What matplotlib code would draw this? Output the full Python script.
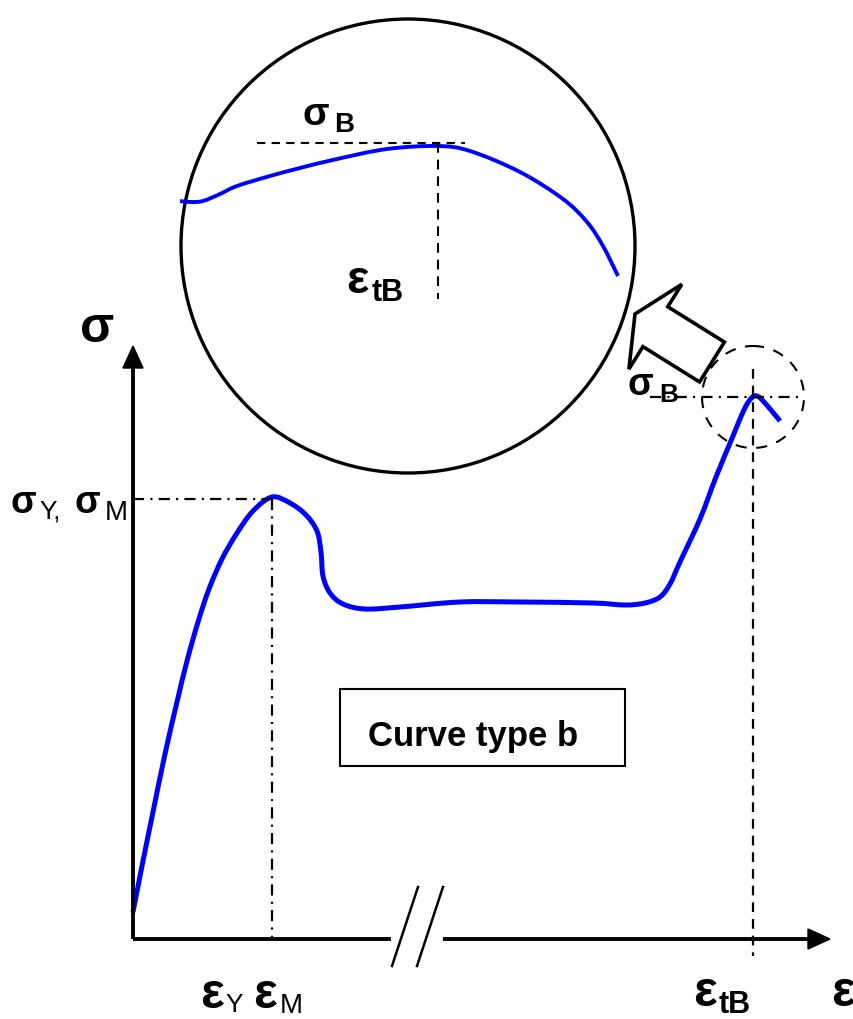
import numpy as np
import matplotlib.pyplot as plt
from matplotlib.path import Path
from matplotlib.patches import Circle, Polygon, Rectangle, FancyArrow, PathPatch

plt.rcParams['font.family'] = ['Liberation Sans', 'DejaVu Sans']
plt.rcParams['lines.scale_dashes'] = False

# stress-strain curve type b (drawing units, y grows downwards)
curve_x = [133, 143, 153, 165, 177, 187, 198, 209, 222, 237, 253, 272, 290, 306,
           317, 321, 323, 330, 343, 365, 400, 460, 520, 593, 625, 645, 660,
           670, 680, 700, 716, 733, 743, 749, 754, 759, 764, 771, 780]
curve_y = [913, 862, 813, 755, 703, 662, 623, 590, 560, 534, 512, 498, 504, 516,
           532, 553, 577, 594, 605, 610, 608, 603, 603, 604, 606, 604, 598,
           585, 563, 520, 478, 437, 413, 402, 397, 398, 403, 411, 422]

# magnified break region
zoom_x = [180, 190, 203, 220, 237, 270, 300, 337, 387, 437, 470, 520, 563, 587, 603, 618]
zoom_y = [202, 203, 202, 195, 187, 177, 169, 160, 150, 147, 152, 173, 200, 223, 247, 277]

origin = (133, 940)
eps_m = 272        # strain at yield / maximum
sigma_m = 500      # yield / maximum stress
eps_tb = 753       # strain at break
sigma_b = 398      # stress at break
zoom_eps_tb = 438
zoom_sigma_b = 144


def smooth_path(xs, ys):
    # Catmull-Rom through the points, drawn as cubic Bezier segments
    pts = np.column_stack([xs, ys]).astype(float)
    verts = [pts[0]]
    codes = [Path.MOVETO]
    n = len(pts)
    for i in range(n - 1):
        p0 = pts[max(i - 1, 0)]
        p1 = pts[i]
        p2 = pts[i + 1]
        p3 = pts[min(i + 2, n - 1)]
        verts += [p1 + (p2 - p0) / 6, p2 - (p3 - p1) / 6, p2]
        codes += [Path.CURVE4] * 3
    return Path(verts, codes)


fig = plt.figure(figsize=(8.54, 10.2), dpi=100)
ax = fig.add_axes([0, 0, 1, 1])
ax.set_xlim(0, 854)
ax.set_ylim(1020, 0)
ax.set_aspect('equal')
ax.axis('off')

blue = '#0000ff'
dashdot = (0, (8, 4.5, 1.5, 4.5))
dashed = (0, (7, 5))

# axes with break
ax.plot([origin[0], origin[0]], [origin[1], 366], color='k', lw=2.8, solid_capstyle='butt')
ax.plot([origin[0], 391], [origin[1], origin[1]], color='k', lw=2.8, solid_capstyle='butt')
ax.plot([443, 812], [origin[1], origin[1]], color='k', lw=2.8, solid_capstyle='butt')
ax.add_patch(Polygon([[133, 347], [123, 369], [143, 369]], closed=True, color='k'))
ax.add_patch(Polygon([[830, 940], [808, 930], [808, 950]], closed=True, color='k'))
ax.plot([392, 418], [967, 888], color='k', lw=1.8)
ax.plot([417, 443], [967, 888], color='k', lw=1.8)

# reference lines
ax.plot([origin[0], eps_m], [sigma_m, sigma_m], color='k', lw=1.6, ls=dashdot)
ax.plot([eps_m, eps_m], [sigma_m, origin[1]], color='k', lw=1.6, ls=dashdot)
ax.plot([650, 803], [sigma_b, sigma_b], color='k', lw=1.6, ls=dashdot)
ax.plot([eps_tb, eps_tb], [370, 957], color='k', lw=1.6, ls=dashed)
ax.add_patch(Circle((eps_tb, sigma_b), 51, fill=False, color='k', lw=1.5, ls=(0, (8, 7))))

# main curve
ax.add_patch(PathPatch(smooth_path(curve_x, curve_y), fill=False, edgecolor=blue,
                       lw=3.6, capstyle='butt', joinstyle='round'))

# magnifier
ax.add_patch(Circle((408, 247), 227, fill=False, color='k', lw=2.4))
ax.plot([257, 465], [zoom_sigma_b, zoom_sigma_b], color='k', lw=1.5, ls=(0, (6, 4.5)))
ax.plot([zoom_eps_tb, zoom_eps_tb], [zoom_sigma_b, 300], color='k', lw=1.5, ls=(0, (7, 5)))
ax.add_patch(PathPatch(smooth_path(zoom_x, zoom_y), fill=False, edgecolor=blue,
                       lw=2.8, capstyle='butt'))

ax.add_patch(FancyArrow(712, 363, -77, -48, width=47, head_width=100, head_length=24,
                        length_includes_head=True, fill=True, facecolor='white',
                        edgecolor='k', lw=2.6, joinstyle='miter'))

# text box
ax.add_patch(Rectangle((340, 690), 285, 77, fill=False, color='k', lw=1.5))
ax.text(368, 746, 'Curve type b', fontsize=25, fontweight='bold', va='baseline')


def sym(x, y, s, size, weight='bold'):
    ax.text(x, y, s, fontsize=size, fontweight=weight, va='baseline', ha='left')


# stress labels
sym(80, 342, 'σ', 36)
sym(11, 513, 'σ', 27)
sym(39, 519, 'Y,', 19, 'normal')
sym(75, 513, 'σ', 27)
sym(105, 520, 'M', 20, 'normal')
sym(628, 395, 'σ', 27)
sym(659, 402, 'B', 19)
sym(303, 125, 'σ', 28)
sym(334, 132, 'B', 20)

# strain labels
sym(200, 1008, 'ε', 36)
sym(225, 1012, 'Y', 19, 'normal')
sym(253, 1008, 'ε', 36)
sym(280, 1013, 'M', 20, 'normal')
sym(693, 1006, 'ε', 36)
sym(719, 1013, 'tB', 22)
sym(831, 1006, 'ε', 36)
sym(346, 293, 'ε', 34)
sym(372, 301, 'tB', 22)

fig.savefig('out.png', dpi=100)
